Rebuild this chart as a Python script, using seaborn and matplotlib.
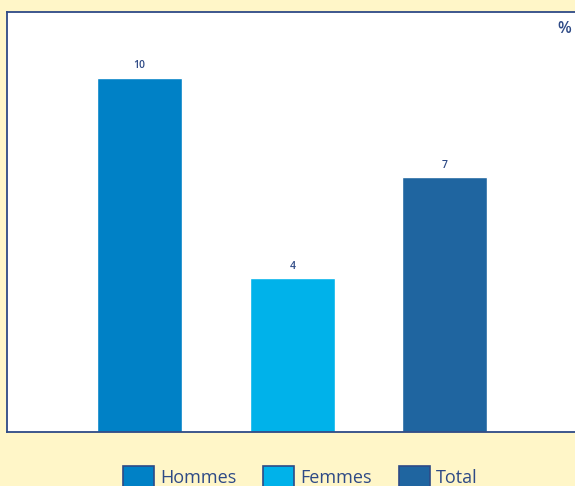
import matplotlib
matplotlib.use("Agg")
import matplotlib.pyplot as plt
import seaborn as sns
import pandas as pd
from matplotlib.patches import Patch

# data
groupes = ["Hommes", "Femmes", "Total"]
valeurs = [10.0, 4.35, 7.2]
etiquettes = ["10", "4", "7"]
couleurs = ["#0081C6", "#00B2EA", "#1F65A0"]

navy = "#2E4A86"
fond = "#FFF6C8"

df = pd.DataFrame({"groupe": groupes, "valeur": valeurs})

sns.set_style("white")
plt.rcParams["font.family"] = ["Open Sans", "DejaVu Sans"]

fig = plt.figure(figsize=(5.75, 4.86), dpi=100, facecolor=fond)
ax = fig.add_axes([0.0122, 0.111, 0.9878, 0.864])

sns.barplot(data=df, x="groupe", y="valeur", hue="groupe", palette=couleurs,
            width=0.557, saturation=1, legend=False, ax=ax)

ax.set_xlim(-0.869, 2.852)
ax.set_ylim(0, 11.85)
ax.set_xlabel("")
ax.set_ylabel("")
ax.set_xticks([])
ax.set_yticks([])
for side, sp in ax.spines.items():
    sp.set_color(navy)
    sp.set_linewidth(1.3)
ax.spines["right"].set_visible(False)

# value labels above bars
for i, (v, lab) in enumerate(zip(valeurs, etiquettes)):
    ax.annotate(lab, (i, v), xytext=(0, 4.5), textcoords="offset points",
                ha="center", va="bottom", fontsize=7.5, color=navy, fontweight="semibold")

ax.text(0.993, 0.98, "%", transform=ax.transAxes, ha="right", va="top",
        fontsize=11.5, color=navy, fontweight="semibold")

handles = [Patch(facecolor=c, edgecolor=navy, linewidth=1.2) for c in couleurs]
fig.legend(handles, groupes, loc="center", bbox_to_anchor=(0.522, 0.0185), ncol=3,
           frameon=False, fontsize=13, handlelength=1.72, handleheight=1.55,
           handletextpad=0.33, columnspacing=1.5, labelcolor=navy,
           borderpad=0, borderaxespad=0)

fig.savefig("out.png", dpi=100, facecolor=fond)
